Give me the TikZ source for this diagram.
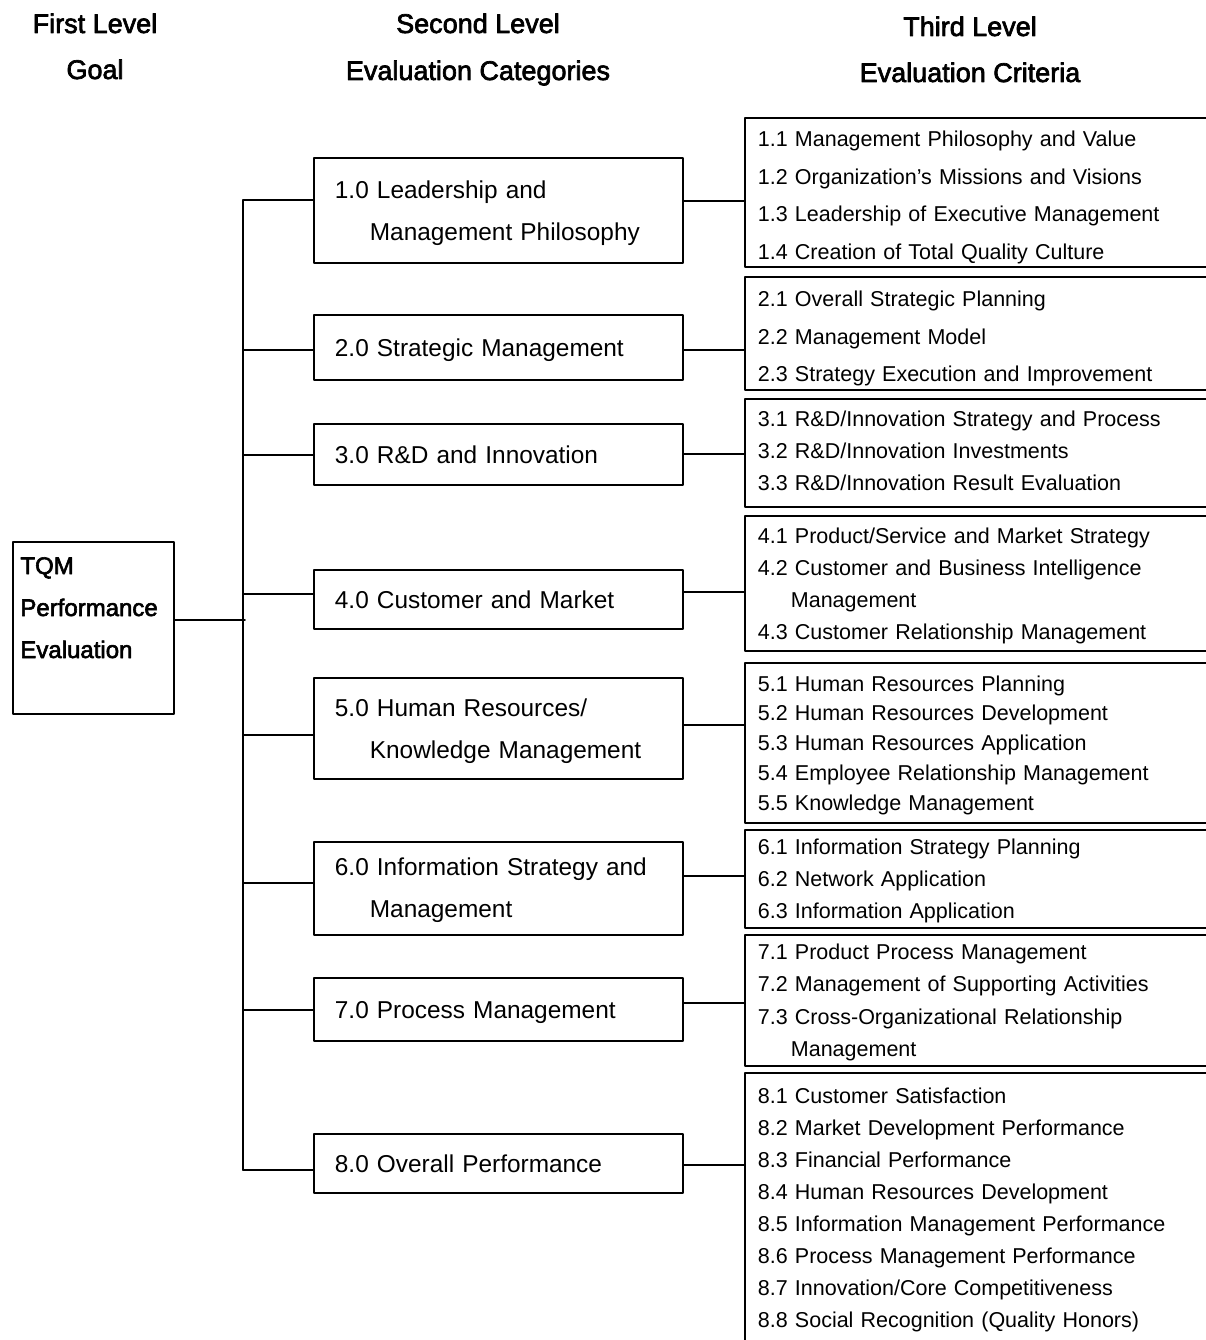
\documentclass[tikz,border=0pt]{standalone}
\usepackage{fontspec}
\setmainfont{Liberation Sans}
\newfontfamily\headfont[FakeBold=2.5]{Liberation Sans}
\usetikzlibrary{positioning}
\tikzset{
  conn/.style={line width=1.8pt,color=black},
  head/.style={anchor=base,font=\headfont\fontsize{27pt}{32pt}\selectfont},
  goalbox/.style={draw,line width=1.8pt,anchor=north west,minimum width=161pt,minimum height=172pt,align=left,text width=146pt,inner xsep=7.5pt,text height=17.2pt,font=\headfont\fontsize{24pt}{42pt}\selectfont},
  catbox/.style={draw,line width=1.8pt,anchor=north west,minimum width=369pt,align=left,text width=327pt,inner xsep=21pt,text height=17.5pt,font=\fontsize{24.4pt}{42pt}\selectfont},
  critbox/.style={draw,line width=1.8pt,anchor=north west,minimum width=490pt,align=left,text width=464pt,inner xsep=13pt,text height=15.4pt,font=\fontsize{21.5pt}{#1}\selectfont},
  critbox/.default=32pt
}
\begin{document}
\begin{tikzpicture}[line cap=round,line join=round,x=1pt,y=-1pt]
\useasboundingbox (0,0) rectangle (1205,1340);
\node[head] (lev1) at (95,33) {First Level};
\node[head] (lev1b) at (95,79) {Goal};
\node[head] (lev2) at (478,33) {Second Level};
\node[head] (lev2b) at (478,80) {Evaluation Categories};
\node[head] (lev3) at (970,36) {Third Level};
\node[head] (lev3b) at (970,82) {Evaluation Criteria};

\node[goalbox,text depth=125pt] (goal) at (12,541) {TQM\\Performance\\Evaluation};

\node[catbox,minimum height=105pt,text depth=41pt] (c1) at (313,157) {1.0 Leadership and\\\hspace*{35pt}Management Philosophy};
\node[catbox,minimum height=65pt,text depth=0pt] (c2) at (313,314) {2.0 Strategic Management};
\node[catbox,minimum height=61pt,text depth=0pt] (c3) at (313,423) {3.0 R\&D and Innovation};
\node[catbox,minimum height=59pt,text depth=0pt] (c4) at (313,569) {4.0 Customer and Market};
\node[catbox,minimum height=101pt,text depth=41pt] (c5) at (313,677) {5.0 Human Resources/\\\hspace*{35pt}Knowledge Management};
\node[catbox,minimum height=93pt,text depth=43pt] (c6) at (313,841) {6.0 Information Strategy and\\\hspace*{35pt}Management};
\node[catbox,minimum height=63pt,text depth=0pt] (c7) at (313,977) {7.0 Process Management};
\node[catbox,minimum height=59pt,text depth=0pt] (c8) at (313,1133) {8.0 Overall Performance};

\node[critbox=37.5pt,minimum height=149pt,text depth=106.5pt] (k1) at (744,117) {1.1 Management Philosophy and Value\\1.2 Organization’s Missions and Visions\\1.3 Leadership of Executive Management\\1.4 Creation of Total Quality Culture};
\node[critbox=37.5pt,minimum height=113pt,text depth=69pt] (k2) at (744,276) {2.1 Overall Strategic Planning\\2.2 Management Model\\2.3 Strategy Execution and Improvement};
\node[critbox,minimum height=108pt,text depth=68pt] (k3) at (744,398) {3.1 R\&D/Innovation Strategy and Process\\3.2 R\&D/Innovation Investments\\3.3 R\&D/Innovation Result Evaluation};
\node[critbox,minimum height=135pt,text depth=96pt] (k4) at (744,515) {4.1 Product/Service and Market Strategy\\4.2 Customer and Business Intelligence\\\hspace*{33pt}Management\\4.3 Customer Relationship Management};
\node[critbox=29.75pt,minimum height=160pt,text depth=119pt] (k5) at (744,662) {5.1 Human Resources Planning\\5.2 Human Resources Development\\5.3 Human Resources Application\\5.4 Employee Relationship Management\\5.5 Knowledge Management};
\node[critbox,minimum height=98pt,text depth=64pt] (k6) at (744,829) {6.1 Information Strategy Planning\\6.2 Network Application\\6.3 Information Application};
\node[critbox=32.3pt,minimum height=131pt,text depth=97pt] (k7) at (744,934) {7.1 Product Process Management\\7.2 Management of Supporting Activities\\7.3 Cross-Organizational Relationship\\\hspace*{33pt}Management};
\node[critbox=32.1pt,minimum height=270pt,text depth=225pt] (k8) at (744,1072) {8.1 Customer Satisfaction\\8.2 Market Development Performance\\8.3 Financial Performance\\8.4 Human Resources Development\\8.5 Information Management Performance\\8.6 Process Management Performance\\8.7 Innovation/Core Competitiveness\\8.8 Social Recognition (Quality Honors)};

\coordinate (trtop) at (243,200);
\coordinate (trbot) at (243,1170);
\coordinate (trmid) at (245,620);
\draw[conn] (trtop) -- (trbot);
\draw[conn] (goal.east |- trmid) -- (trmid);
\foreach \n/\y in {1/200,2/350,3/455,4/594,5/735,6/883,7/1010,8/1170}
\draw[conn] (trtop |- 0,\y) -- (c\n.west |- 0,\y);
\foreach \n/\y in {1/201,2/350,3/454,4/592,5/725,6/876,7/1003,8/1165}
\draw[conn] (c\n.east |- 0,\y) -- (k\n.west |- 0,\y);
\end{tikzpicture}
\end{document}
